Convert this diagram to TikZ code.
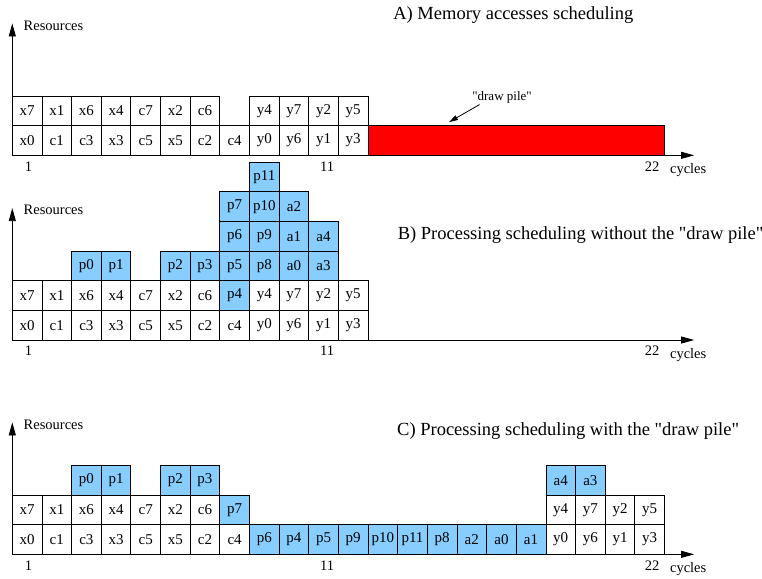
\documentclass[tikz,border=0pt]{standalone}
\usepackage{fontspec}
\setmainfont{Liberation Serif}
\usetikzlibrary{arrows.meta}
\definecolor{procblue}{RGB}{135,206,255}

\tikzset{
    cell/.style={draw, minimum width=29.64pt, minimum height=29.64pt, inner sep=0pt, outer sep=0pt, font=\fontsize{15}{15}\selectfont},
    pcell/.style={cell, fill=procblue},
    ticklabel/.style={font=\fontsize{14.5}{15}\selectfont},
    paneltitle/.style={anchor=west, inner xsep=0pt, font=\fontsize{18.5}{19}\selectfont}
}

\begin{document}
\begin{tikzpicture}[x=29.64pt, y=29.64pt, line width=0.8pt, >={Triangle[length=13pt, width=7pt]}]
    \useasboundingbox (-0.415, -0.8) rectangle (25.29, 18.7);

    % Axes of the three panels
    \foreach \p/\y in {A/13.46, B/7.23, C/0} {
        \begin{scope}[shift={(0,\y)}]
            \coordinate (\p-o) at (0, 0);
            \coordinate (\p-top) at (0, 4.45);
            \coordinate (\p-end) at (23, 0);
            \draw[->] (\p-o) -- (\p-top);
            \draw[->] (\p-o) -- (\p-end);
            \node[ticklabel, anchor=west, inner xsep=0pt] (\p-res) at (0.37, 4.38) {Resources};
            \node[ticklabel] (\p-one) at (0.55, -0.37) {1};
            \node[ticklabel] (\p-eleven) at (10.62, -0.37) {11};
            \node[ticklabel] (\p-last) at (21.58, -0.37) {22};
            \node[ticklabel] (\p-cycles) at (22.8, -0.5) {cycles};
        \end{scope}
    }

    % A) memory accesses
    \begin{scope}[shift={(0,13.46)}]
        \node[paneltitle] (A-title) at (12.84, 4.73) {A) Memory accesses scheduling};
        \foreach \t [count=\i] in {x0,c1,c3,x3,c5,x5,c2,c4,y0,y6,y1,y3}
            \node[cell] (A-\t) at (\i-0.5, 0.5) {\t};
        \foreach \c/\t in {1/x7,2/x1,3/x6,4/x4,5/c7,6/x2,7/c6,9/y4,10/y7,11/y2,12/y5}
            \node[cell] (A-\t) at (\c-0.5, 1.5) {\t};
        % draw pile
        \node[cell, fill=red, minimum width=296.4pt] (A-pile) at (17, 0.5) {};
        \node[font=\fontsize{13}{13}\selectfont] (A-pilelabel) at (16.52, 1.97) {\textquotedbl draw pile\textquotedbl};
        \coordinate (A-pilein) at (14.73, 1.12);
        \draw[-{Triangle[length=9pt, width=5pt]}] ([xshift=11pt, yshift=2pt]A-pilelabel.south west) -- (A-pilein);
    \end{scope}

    % B) processing without the draw pile
    \begin{scope}[shift={(0,7.23)}]
        \node[paneltitle] (B-title) at (12.99, 3.54) {B) Processing scheduling without the \textquotedbl draw pile\textquotedbl};
        \foreach \t [count=\i] in {x0,c1,c3,x3,c5,x5,c2,c4,y0,y6,y1,y3}
            \node[cell] (B-\t) at (\i-0.5, 0.5) {\t};
        \foreach \c/\t in {1/x7,2/x1,3/x6,4/x4,5/c7,6/x2,7/c6,9/y4,10/y7,11/y2,12/y5}
            \node[cell] (B-\t) at (\c-0.5, 1.5) {\t};
        \node[pcell] (B-p4) at (7.5, 1.5) {p4};
        \foreach \c/\t in {3/p0,4/p1,6/p2,7/p3,8/p5,9/p8,10/a0,11/a3}
            \node[pcell] (B-\t) at (\c-0.5, 2.5) {\t};
        \foreach \c/\t in {8/p6,9/p9,10/a1,11/a4}
            \node[pcell] (B-\t) at (\c-0.5, 3.5) {\t};
        \foreach \c/\t in {8/p7,9/p10,10/a2}
            \node[pcell] (B-\t) at (\c-0.5, 4.5) {\t};
        \node[pcell] (B-p11) at (8.5, 5.5) {p11};
    \end{scope}

    % C) processing with the draw pile
    \begin{scope}
        \node[paneltitle] (C-title) at (12.97, 4.17) {C) Processing scheduling with the \textquotedbl draw pile\textquotedbl};
        \foreach \t [count=\i] in {x0,c1,c3,x3,c5,x5,c2,c4}
            \node[cell] (C-\t) at (\i-0.5, 0.5) {\t};
        \foreach \t [count=\i from 9] in {p6,p4,p5,p9,p10,p11,p8,a2,a0,a1}
            \node[pcell] (C-\t) at (\i-0.5, 0.5) {\t};
        \foreach \t [count=\i from 19] in {y0,y6,y1,y3}
            \node[cell] (C-\t) at (\i-0.5, 0.5) {\t};
        \foreach \c/\t in {1/x7,2/x1,3/x6,4/x4,5/c7,6/x2,7/c6,19/y4,20/y7,21/y2,22/y5}
            \node[cell] (C-\t) at (\c-0.5, 1.5) {\t};
        \node[pcell] (C-p7) at (7.5, 1.5) {p7};
        \foreach \c/\t in {3/p0,4/p1,6/p2,7/p3,19/a4,20/a3}
            \node[pcell] (C-\t) at (\c-0.5, 2.5) {\t};
    \end{scope}
\end{tikzpicture}
\end{document}
